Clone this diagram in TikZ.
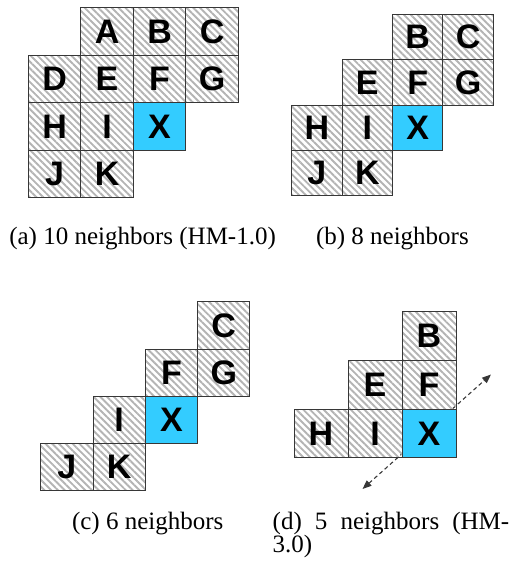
\documentclass[tikz,border=0pt]{standalone}
\usepackage{fontspec}
\setmainfont{Liberation Serif}
\newfontfamily\cellfont{Liberation Sans}
\usetikzlibrary{patterns.meta,arrows.meta}
\definecolor{hatch}{RGB}{180,180,180}
\definecolor{xblue}{RGB}{51,204,255}
\definecolor{edge}{RGB}{55,55,55}
\tikzset{
  cellbase/.style={draw=edge, line width=0.9pt, inner sep=0pt, outer sep=0pt,
    minimum width=\pgfkeysvalueof{/tikz/cw}, minimum height=\pgfkeysvalueof{/tikz/ch},
    font=\cellfont\bfseries\fontsize{34}{34}\selectfont},
  cw/.initial=52pt, ch/.initial=47pt,
  hcell/.style={cellbase, pattern={Lines[angle=-45,distance=4.8pt,line width=1.9pt]}, pattern color=hatch},
  xcell/.style={cellbase, fill=xblue},
  caption/.style={inner sep=0pt, outer sep=0pt, anchor=base west, font=\fontsize{25}{25}\selectfont},
  dasharrow/.style={draw=edge, line width=1.1pt, dash pattern=on 4pt off 3pt,
    {Triangle[length=9pt,width=7pt]}-{Triangle[length=9pt,width=7pt]}},
}
\begin{document}
\begin{tikzpicture}[x=1pt,y=-1pt]
\useasboundingbox (0,0) rectangle (513,568);
% (a)
\begin{scope}[shift={(28.3pt,-7.7pt)}, x=52.5pt, y=-47.5pt, cw=52.5pt, ch=47.5pt]
  \node[hcell] (aA) at (1.5,0.5) {A};
  \node[hcell] (aB) at (2.5,0.5) {B};
  \node[hcell] (aC) at (3.5,0.5) {C};
  \node[hcell] (aD) at (0.5,1.5) {D};
  \node[hcell] (aE) at (1.5,1.5) {E};
  \node[hcell] (aF) at (2.5,1.5) {F};
  \node[hcell] (aG) at (3.5,1.5) {G};
  \node[hcell] (aH) at (0.5,2.5) {H};
  \node[hcell] (aI) at (1.5,2.5) {I};
  \node[xcell] (aX) at (2.5,2.5) {X};
  \node[hcell] (aJ) at (0.5,3.5) {J};
  \node[hcell] (aK) at (1.5,3.5) {K};
\end{scope}
% (b)
\begin{scope}[shift={(291.7pt,-14.3pt)}, x=50.4pt, y=-45.4pt, cw=50.4pt, ch=45.4pt]
  \node[hcell] (bB) at (2.5,0.5) {B};
  \node[hcell] (bC) at (3.5,0.5) {C};
  \node[hcell] (bE) at (1.5,1.5) {E};
  \node[hcell] (bF) at (2.5,1.5) {F};
  \node[hcell] (bG) at (3.5,1.5) {G};
  \node[hcell] (bH) at (0.5,2.5) {H};
  \node[hcell] (bI) at (1.5,2.5) {I};
  \node[xcell] (bX) at (2.5,2.5) {X};
  \node[hcell] (bJ) at (0.5,3.5) {J};
  \node[hcell] (bK) at (1.5,3.5) {K};
\end{scope}
% (c)
\begin{scope}[shift={(40.7pt,-301.7pt)}, x=52.3pt, y=-47.3pt, cw=52.3pt, ch=47.3pt]
  \node[hcell] (cC) at (3.5,0.5) {C};
  \node[hcell] (cF) at (2.5,1.5) {F};
  \node[hcell] (cG) at (3.5,1.5) {G};
  \node[hcell] (cI) at (1.5,2.5) {I};
  \node[xcell] (cX) at (2.5,2.5) {X};
  \node[hcell] (cJ) at (0.5,3.5) {J};
  \node[hcell] (cK) at (1.5,3.5) {K};
\end{scope}
% (d)
\coordinate (dUp) at (491,374.5);
\coordinate (dDown) at (362.5,489);
\draw[dasharrow] (dDown) -- (dUp);
\begin{scope}[shift={(294pt,-311.7pt)}, x=54pt, y=-48.7pt, cw=54pt, ch=48.7pt]
  \node[hcell] (dB) at (2.5,0.5) {B};
  \node[hcell] (dE) at (1.5,1.5) {E};
  \node[hcell] (dF) at (2.5,1.5) {F};
  \node[hcell] (dH) at (0.5,2.5) {H};
  \node[hcell] (dI) at (1.5,2.5) {I};
  \node[xcell] (dX) at (2.5,2.5) {X};
\end{scope}
% captions
\node[caption] (capa) at (9.3,244.5) {(a) 10 neighbors (HM-1.0)};
\node[caption] (capb) at (316,244.5) {(b) 8 neighbors};
\node[caption] (capc) at (72,529) {(c) 6 neighbors};
\node[caption] (capd1) at (272.7,529) {\makebox[236.6pt][s]{(d) 5 neighbors (HM-}};
\node[caption] (capd2) at (272.7,552) {3.0)};
\end{tikzpicture}
\end{document}
